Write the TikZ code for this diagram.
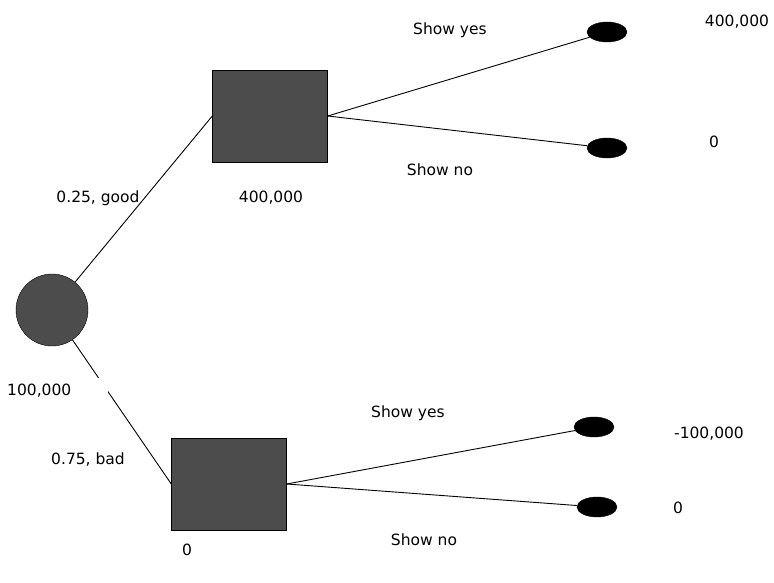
\documentclass[tikz,border=0pt]{standalone}
\usepackage{fontspec}
\setmainfont{DejaVu Sans}
\usetikzlibrary{shapes.geometric}
\begin{document}
\begin{tikzpicture}[x=1pt,y=-1pt,
  chance/.style={circle,draw=black,fill=black!70,minimum size=72pt,inner sep=0pt},
  decision/.style={rectangle,draw=black,fill=black!70,minimum width=115pt,minimum height=92pt,inner sep=0pt},
  leaf/.style={ellipse,draw=black,fill=black,minimum width=40pt,minimum height=20pt,inner sep=0pt},
  lbl/.style={font=\fontsize{15.5}{18}\selectfont,inner sep=1pt},
  edge/.style={draw=black,line width=0.9pt}]
\useasboundingbox (0,0) rectangle (774,582);
\node[chance] (root) at (52,310) {};
\node[decision] (good) at (270,116) {};
\node[decision] (bad) at (229,484) {};
\node[leaf] (g1) at (607,32) {};
\node[leaf] (g2) at (607,148) {};
\node[leaf] (b1) at (594,427) {};
\node[leaf] (b2) at (597,507) {};
\draw[edge] (root) -- (good.west);
\draw[edge] (root) -- (bad.west);
\draw[edge] (good.east) -- (g1);
\draw[edge] (good.east) -- (g2);
\draw[edge] (bad.east) -- (b1);
\draw[edge] (bad.east) -- (b2);
\node[lbl,fill=white,anchor=west,text width=100pt,minimum height=26pt,align=left] (rootval) at (6,391) {100,000};
\node[lbl] (goodval) at (271,198) {400,000};
\node[lbl] (badval) at (187,550) {0};
\node[lbl] (lgood) at (98,198) {0.25, good};
\node[lbl] (lbad) at (88,460) {0.75, bad};
\node[lbl] (gyes) at (450,30) {Show yes};
\node[lbl] (gno) at (440,170) {Show no};
\node[lbl] (byes) at (408,413) {Show yes};
\node[lbl] (bno) at (424,540) {Show no};
\node[lbl] (v1) at (737,22) {400,000};
\node[lbl] (v2) at (714,142) {0};
\node[lbl] (v3) at (709,434) {-100,000};
\node[lbl] (v4) at (678,508) {0};
\end{tikzpicture}
\end{document}
